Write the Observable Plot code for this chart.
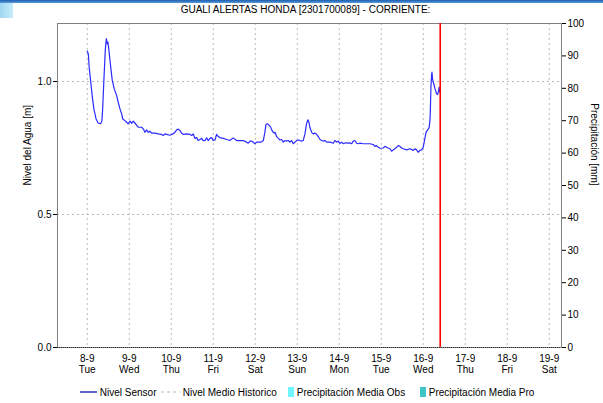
<!DOCTYPE html>
<html><head><meta charset="utf-8">
<script src="https://cdn.jsdelivr.net/npm/d3@7"></script>
<script src="https://cdn.jsdelivr.net/npm/@observablehq/plot@0.6"></script>
<style>
body{margin:0;background:#fff;font-family:"Liberation Sans",Arial,sans-serif;width:603px;height:403px;overflow:hidden;position:relative}
#topbar{position:absolute;left:0;top:0;width:603px;height:3px;background:linear-gradient(#1d5fb0,#5a9ad8)}
#corner{position:absolute;left:0;top:3px;width:13px;height:15px;background:linear-gradient(90deg,#9fd6f2,#c8ecfa)}
#title{position:absolute;left:0;top:4px;width:603px;text-align:center;font-size:10px;color:#000;padding-left:8px;box-sizing:border-box}
#chart{position:absolute;left:0;top:14px}
.leg{position:absolute;top:387px;font-size:10px;color:#000;white-space:nowrap;line-height:12px}
</style></head>
<body>
<div id="topbar"></div><div id="corner"></div>
<div id="title">GUALI ALERTAS HONDA [2301700089] - CORRIENTE:</div>
<div id="chart"></div>
<div id="legend"></div>
<script>
// ---- data ----
const startISO = "2020-09-08T00:00:00Z";           // hours below are counted from this instant
const hours = [0,0.6,1.1,2.1,2.9,3.8,5.0,6.3,7.7,8.4,8.8,9.5,10.3,10.9,11.1,11.4,11.8,12.4,13.4,14.3,15.4,16.8,17.7,18.7,19.7,20.2,21.5,22.5,23.4,24.4,25.4,26.3,27.3,29.1,31.1,32.0,33.0,33.9,34.9,35.8,36.8,38.7,40.6,42.5,43.4,44.4,45.3,47.3,48.2,49.1,50.1,51.1,52.0,53.0,53.9,54.9,56.8,58.7,59.7,60.6,61.5,62.5,63.4,64.4,65.4,66.3,67.3,68.2,69.1,70.1,71.1,72.0,73.0,73.9,74.9,75.8,77.7,79.7,81.5,83.4,85.4,87.3,89.1,91.1,92.0,93.0,93.9,94.9,95.8,96.8,98.7,99.6,100.6,101.5,102.1,102.9,104.0,104.8,105.4,106.3,106.9,107.3,108.2,109.2,110.1,111.1,112.0,113.0,113.9,114.9,115.8,116.8,117.7,118.7,119.7,120.6,121.5,122.5,123.4,124.4,125.3,126.1,126.7,127.2,128.2,129.1,130.1,131.1,132.0,133.0,133.9,134.9,135.8,136.8,138.7,140.6,141.5,142.5,143.4,144.4,145.4,146.3,147.3,148.2,149.1,150.1,151.1,152.0,153.0,153.9,154.9,155.8,157.7,159.7,161.5,163.4,164.4,165.3,166.3,167.3,169.1,170.1,171.1,172.0,173.0,173.9,174.9,175.8,176.8,177.7,178.7,179.6,180.6,182.5,184.4,186.3,187.3,188.2,189.1,190.1,191.1,192.0,192.7,193.6,194.3,194.9,195.4,195.8,196.0,196.4,196.8,197.0,197.3,197.7,198.7,199.6,200.2,200.8,201.1,201.5];
const level = [1.114,1.104,1.054,0.991,0.941,0.897,0.860,0.843,0.841,0.853,0.897,1.004,1.117,1.161,1.154,1.142,1.148,1.117,1.054,1.004,0.973,0.947,0.922,0.897,0.878,0.860,0.853,0.847,0.841,0.851,0.843,0.851,0.843,0.828,0.828,0.822,0.809,0.818,0.809,0.813,0.806,0.806,0.803,0.801,0.797,0.803,0.801,0.798,0.801,0.803,0.809,0.818,0.821,0.816,0.806,0.801,0.803,0.801,0.797,0.803,0.786,0.789,0.778,0.782,0.786,0.778,0.778,0.788,0.778,0.786,0.789,0.778,0.780,0.801,0.793,0.789,0.786,0.782,0.778,0.788,0.778,0.778,0.778,0.772,0.768,0.776,0.776,0.772,0.766,0.772,0.772,0.773,0.778,0.809,0.838,0.841,0.835,0.828,0.818,0.809,0.806,0.809,0.793,0.786,0.780,0.782,0.772,0.778,0.776,0.778,0.772,0.778,0.766,0.772,0.778,0.780,0.778,0.776,0.778,0.803,0.841,0.856,0.847,0.828,0.809,0.803,0.806,0.801,0.793,0.782,0.778,0.776,0.778,0.772,0.772,0.768,0.778,0.772,0.776,0.767,0.772,0.766,0.769,0.769,0.768,0.769,0.766,0.776,0.778,0.768,0.766,0.768,0.766,0.766,0.766,0.763,0.756,0.759,0.753,0.749,0.750,0.756,0.753,0.750,0.747,0.738,0.743,0.747,0.753,0.759,0.756,0.750,0.747,0.743,0.747,0.741,0.747,0.743,0.734,0.741,0.743,0.753,0.778,0.809,0.816,0.822,0.828,0.853,0.878,0.979,1.028,1.035,1.010,0.998,0.973,0.954,0.951,0.966,0.979,0.960];
const currentHour = 201.7;                            // red "now" marker
const dayLabels = ["8-9","9-9","10-9","11-9","12-9","13-9","14-9","15-9","16-9","17-9","18-9","19-9"];
const weekdayLabels = ["Tue","Wed","Thu","Fri","Sat","Sun","Mon","Tue","Wed","Thu","Fri","Sat"];
const levelTicks = [0, 0.5, 1.0];
const precipTicks = [0,10,20,30,40,50,60,70,80,90,100];
const levelMax = 1.218;   // top of the left axis
const precipMax = 100;    // top of the right axis
const legendItems = ["Nivel Sensor","Nivel Medio Historico","Precipitación Media Obs","Precipitación Media Pro"];

// ---- build ----
const t0 = new Date(startISO).getTime();
const H = 3600e3;
const toDate = h => new Date(t0 + h * H);
const data = hours.map((h, i) => ({t: toDate(h), v: level[i]}));
const dayDates = dayLabels.map((_, i) => toDate(24 * i));
const xDomain = [toDate(-17), toDate(24 * 11 + 7)];
const precipToLevel = p => p / precipMax * levelMax;

const font = "Liberation Sans, Arial, sans-serif";
const chart = Plot.plot({
  width: 603, height: 366,
  marginTop: 9, marginBottom: 33, marginLeft: 57, marginRight: 42,
  style: {fontFamily: font, fontSize: "10px", color: "#000", background: "transparent"},
  x: {type: "utc", domain: xDomain},
  y: {domain: [0, levelMax]},
  marks: [
    Plot.ruleX(dayDates, {stroke: "#b8b8b8", strokeDasharray: "2,3"}),
    Plot.ruleY([0.5, 1.0], {stroke: "#b8b8b8", strokeDasharray: "2,3"}),
    Plot.frame({stroke: "#808080"}),
    Plot.ruleY([0], {stroke: "#333", strokeDasharray: "1,1"}),
    Plot.line(data, {x: "t", y: "v", stroke: "#2b2bff", strokeWidth: 1.2}),
    Plot.ruleX([toDate(currentHour)], {stroke: "#ff0000", strokeWidth: 1.6}),
    Plot.axisX(dayDates, {tickSize: 0, tickPadding: 6, fontSize: 10, lineHeight: 1.15,
      tickFormat: (d, i) => dayLabels[i] + "\n" + weekdayLabels[i], label: null}),
    Plot.axisY(levelTicks, {anchor: "left", tickSize: 4, tickPadding: 2, stroke: "#000",
      tickFormat: d => d.toFixed(1), label: null}),
    Plot.axisY(precipTicks.map(precipToLevel), {anchor: "right", tickSize: 4, tickPadding: 2,
      tickFormat: d => String(Math.round(d / levelMax * precipMax)), label: null}),
    Plot.text(["Nivel del Agua [m]"], {frameAnchor: "left", dx: -30, rotate: -90, fontSize: 10}),
    Plot.text(["Precipitación [mm]"], {frameAnchor: "right", dx: 33, rotate: 90, fontSize: 10})
  ]
});
document.getElementById("chart").appendChild(chart);

// legend
const leg = document.getElementById("legend");
const add = (html, left) => { const s = document.createElement("div"); s.className = "leg"; s.style.left = left + "px"; s.innerHTML = html; leg.appendChild(s); };
add(`<svg width="17" height="10" style="vertical-align:-1px"><line x1="0" x2="17" y1="5" y2="5" stroke="#1010a0" stroke-width="1.3"/></svg> ${legendItems[0]}`, 80);
add(`<svg width="20" height="10" style="vertical-align:-1px"><line x1="1" x2="20" y1="5" y2="5" stroke="#bbb" stroke-width="1" stroke-dasharray="3,3"/></svg> ${legendItems[1]}`, 160);
add(`<span style="display:inline-block;width:6px;height:10px;background:#6ff5ff;vertical-align:-1px"></span> ${legendItems[2]}`, 288);
add(`<span style="display:inline-block;width:6px;height:10px;background:#40c4c8;vertical-align:-1px"></span> ${legendItems[3]}`, 420);
</script>
</body></html>
